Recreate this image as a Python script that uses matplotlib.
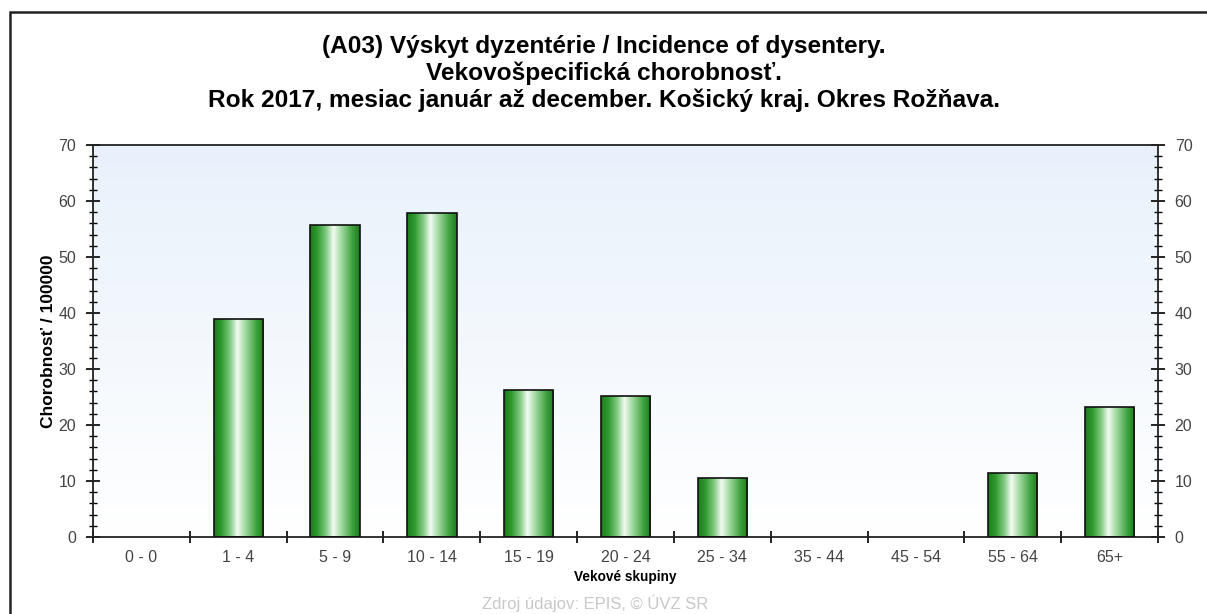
import matplotlib
matplotlib.use("Agg")
import matplotlib.pyplot as plt
import numpy as np
from matplotlib.colors import LinearSegmentedColormap
from matplotlib.patches import Rectangle
from matplotlib.ticker import MultipleLocator, FixedLocator, NullFormatter

categories = ["0 - 0", "1 - 4", "5 - 9", "10 - 14", "15 - 19", "20 - 24",
              "25 - 34", "35 - 44", "45 - 54", "55 - 64", "65+"]
values = [0, 38.9, 55.7, 57.8, 26.2, 25.2, 10.5, 0, 0, 11.4, 23.2]

title = ("(A03) Výskyt dyzentérie / Incidence of dysentery.\n"
         "Vekovošpecifická chorobnosť.\n"
         "Rok 2017, mesiac január až december. Košický kraj. Okres Rožňava.")
ylabel = "Chorobnosť / 100000"
xlabel = "Vekové skupiny"
footer = "Zdroj údajov: EPIS, © ÚVZ SR"

plt.rcParams['font.family'] = ['Liberation Sans', 'DejaVu Sans']

W, H = 1207, 614
fig = plt.figure(figsize=(W / 100, H / 100), dpi=100)
fig.patch.set_facecolor("white")

# outer frame
fig.patches.append(Rectangle((10 / W, -0.05), 1.2, (H - 12) / H + 0.05,
                             transform=fig.transFigure, fill=False,
                             edgecolor="#222222", linewidth=1.8))

ax = fig.add_axes([93 / W, 77 / H, (1158 - 93) / W, (537 - 145) / H])
n = len(categories)
x = np.arange(n)

# background gradient
bg = np.linspace(0, 1, 256).reshape(-1, 1)
bgcmap = LinearSegmentedColormap.from_list("bg", ["#ffffff", "#e8f1fb"])
ax.imshow(bg, aspect="auto", cmap=bgcmap, origin="lower",
          extent=[0, 1, 0, 1], transform=ax.transAxes, zorder=0)

edgecols = ["#111111" if v > 0 else "none" for v in values]
bars = ax.bar(x, values, width=0.51, facecolor="none", edgecolor=edgecols,
              linewidth=1.2, zorder=3)

gcmap = LinearSegmentedColormap.from_list(
    "g", [(0.0, "#1c7c1c"), (0.15, "#2f9a2f"), (0.33, "#86cc86"),
          (0.47, "#f3fbf3"), (0.6, "#aee0ae"), (0.85, "#3ea23e"),
          (1.0, "#1d7a1d")])
grad = np.linspace(0, 1, 256).reshape(1, -1)
for b in bars:
    h = b.get_height()
    if h <= 0:
        continue
    x0 = b.get_x()
    im = ax.imshow(grad, aspect="auto", cmap=gcmap,
                   extent=[x0, x0 + b.get_width(), 0, h], zorder=2)
    im.set_clip_path(b)
ax.set_xlim(-0.5, n - 0.5)
ax.set_ylim(0, 70)

# spines
for s in ["top", "bottom", "left", "right"]:
    ax.spines[s].set_color("#222222")
    ax.spines[s].set_linewidth(1.3)

# y ticks
ax.yaxis.set_major_locator(MultipleLocator(10))
ax.yaxis.set_minor_locator(MultipleLocator(2))
ax.tick_params(axis="y", which="major", direction="inout", length=10, width=1.2,
               labelsize=11.5, labelcolor="#444444", left=True, right=True,
               labelleft=True, labelright=True, pad=7)
ax.tick_params(axis="y", which="minor", direction="inout", length=6, width=1.0,
               left=True, right=True)

# x ticks: boundaries as major (no label), centers as minor with labels
ax.xaxis.set_major_locator(FixedLocator(np.arange(n + 1) - 0.5))
ax.xaxis.set_major_formatter(NullFormatter())
ax.xaxis.set_minor_locator(FixedLocator(x))
ax.set_xticklabels(categories, minor=True)
ax.tick_params(axis="x", which="major", direction="inout", length=9, width=1.2)
ax.tick_params(axis="x", which="minor", length=0, labelsize=11.5,
               labelcolor="#444444", pad=9)

ax.set_ylabel(ylabel, fontsize=12.5, fontweight="bold", labelpad=2)
ax.set_xlabel(xlabel, fontsize=9.8, fontweight="bold", labelpad=4)

fig.text(0.5, (H - 35) / H, title, ha="center", va="top", fontsize=17.6,
         fontweight="bold", linespacing=1.19)
fig.text(595 / W, (H - 603) / H, footer, ha="center", va="center",
         fontsize=12, color="#c8c8c8")

fig.savefig("out.png", dpi=100, facecolor="white")
